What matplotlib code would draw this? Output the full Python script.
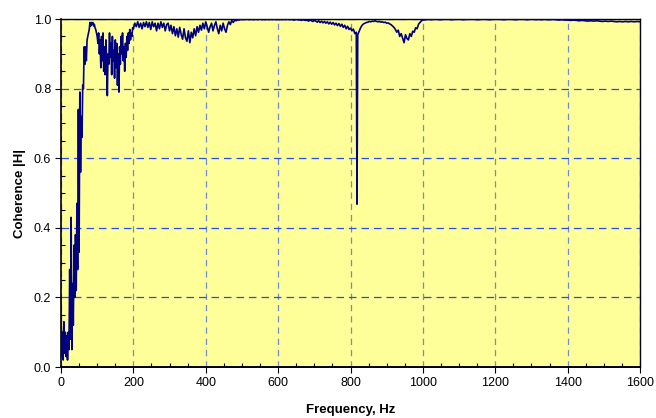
import matplotlib
matplotlib.use("Agg")
import matplotlib.pyplot as plt
import numpy as np
from matplotlib.ticker import MultipleLocator, FormatStrFormatter

plt.rcParams["font.family"] = ["Liberation Sans", "DejaVu Sans"]

# coherence read off the picture, in four stretches sampled at their own spacing
# 0-198 Hz, every 2 Hz (the noisy rise)
f_low = np.arange(0, 200, 2)
coh_low = [
    0.19, 0.03, 0.10, 0.02, 0.13, 0.04, 0.10, 0.03, 0.09, 0.02,
    0.10, 0.05, 0.28, 0.08, 0.43, 0.05, 0.24, 0.12, 0.35, 0.20,
    0.38, 0.22, 0.47, 0.28, 0.74, 0.33, 0.79, 0.56, 0.72, 0.66,
    0.81, 0.80, 0.92, 0.87, 0.92, 0.88, 0.94, 0.95, 0.96, 0.97,
    0.99, 0.98, 0.99, 0.985, 0.99, 0.98, 0.985, 0.975, 0.97, 0.96,
    0.95, 0.93, 0.96, 0.90, 0.94, 0.86, 0.95, 0.88, 0.96, 0.85,
    0.92, 0.84, 0.94, 0.88, 0.78, 0.90, 0.87, 0.96, 0.89, 0.93,
    0.84, 0.95, 0.88, 0.91, 0.83, 0.94, 0.86, 0.93, 0.81, 0.90,
    0.79, 0.92, 0.87, 0.95, 0.90, 0.96, 0.88, 0.92, 0.85, 0.93,
    0.89, 0.95, 0.91, 0.96, 0.93, 0.97, 0.94, 0.96, 0.95, 0.975,
]
# 200-596 Hz, every 4 Hz
f_mid = np.arange(200, 600, 4)
coh_mid = [
    0.972, 0.988, 0.978, 0.992, 0.976, 0.988, 0.972, 0.990, 0.978, 0.992,
    0.976, 0.990, 0.970, 0.992, 0.978, 0.988, 0.966, 0.988, 0.972, 0.992,
    0.976, 0.988, 0.966, 0.984, 0.988, 0.966, 0.982, 0.958, 0.978, 0.952,
    0.972, 0.948, 0.976, 0.956, 0.942, 0.972, 0.946, 0.936, 0.966, 0.932,
    0.962, 0.946, 0.972, 0.952, 0.978, 0.962, 0.982, 0.968, 0.988, 0.972,
    0.992, 0.978, 0.962, 0.978, 0.988, 0.966, 0.982, 0.992, 0.972, 0.958,
    0.982, 0.966, 0.988, 0.972, 0.962, 0.982, 0.992, 0.984, 0.996, 0.990,
    0.997, 0.995, 0.998, 0.997, 0.999, 0.998, 0.999, 0.998, 0.999, 0.999,
    0.998, 0.999, 0.999, 0.998, 0.999, 0.999, 0.998, 0.999, 0.999, 0.998,
    0.999, 0.998, 0.999, 0.999, 0.998, 0.999, 0.998, 0.999, 0.999, 0.998,
]
# 600-996 Hz, every 4 Hz (the dip near 810 Hz and the one near 950 Hz)
f_hi = np.arange(600, 1000, 4)
coh_hi = [
    0.999, 0.998, 0.999, 0.998, 0.999, 0.998, 0.999, 0.999, 0.998, 0.999,
    0.998, 0.997, 0.998, 0.999, 0.997, 0.998, 0.996, 0.998, 0.997, 0.996,
    0.997, 0.994, 0.997, 0.995, 0.993, 0.996, 0.994, 0.991, 0.995, 0.990,
    0.994, 0.989, 0.993, 0.988, 0.992, 0.986, 0.991, 0.985, 0.990, 0.983,
    0.988, 0.981, 0.987, 0.979, 0.985, 0.976, 0.982, 0.972, 0.979, 0.970,
    0.974, 0.966, 0.971, 0.958, 0.962, 0.955, 0.965, 0.975, 0.982, 0.986,
    0.988, 0.990, 0.991, 0.993, 0.992, 0.994, 0.993, 0.995, 0.993, 0.992,
    0.993, 0.991, 0.992, 0.990, 0.991, 0.988, 0.989, 0.986, 0.984, 0.980,
    0.976, 0.970, 0.962, 0.968, 0.950, 0.958, 0.945, 0.932, 0.955, 0.944,
    0.940, 0.958, 0.950, 0.965, 0.962, 0.975, 0.972, 0.985, 0.990, 0.995,
]
# the single-bin drop at ~818 Hz
f_spike = [818]
coh_spike = [0.468]
# 1000-1600 Hz, every 8 Hz (flat top)
f_top = np.arange(1000, 1601, 8)
coh_top = [
    0.997, 0.998, 0.999, 0.998, 0.999, 0.999, 0.998, 0.999, 0.999, 0.999,
    0.998, 0.999, 0.999, 0.999, 0.998, 0.999, 0.999, 0.999, 0.999, 0.998,
    0.999, 0.999, 0.999, 0.998, 0.999, 0.999, 0.999, 0.999, 0.998, 0.999,
    0.999, 0.999, 0.998, 0.999, 0.999, 0.999, 0.998, 0.999, 0.999, 0.998,
    0.999, 0.998, 0.999, 0.998, 0.998, 0.999, 0.998, 0.997, 0.998, 0.997,
    0.997, 0.996, 0.997, 0.996, 0.995, 0.996, 0.995, 0.994, 0.995, 0.994,
    0.995, 0.994, 0.993, 0.994, 0.993, 0.994, 0.993, 0.992, 0.993, 0.992,
    0.993, 0.992, 0.993, 0.992, 0.993, 0.992,
]

freq = np.concatenate([f_low, f_mid, f_hi, f_spike, f_top])
coh = np.concatenate([coh_low, coh_mid, coh_hi, coh_spike, coh_top])
order = np.argsort(freq, kind="stable")
freq, coh = freq[order], coh[order]

HGRID = "#2a4ee6"  # horizontal grid: bright blue
VGRID = "#6f8ccc"  # vertical grid: paler, greyer blue

fig = plt.figure(figsize=(6.56, 4.18), dpi=100)
ax = fig.add_axes([0.093, 0.122, 0.8826, 0.8325])
ax.set_facecolor("#ffff99")

ax.plot(freq, coh, color="#000080", lw=1.2, zorder=3)

ax.set_xlim(0, 1600)
ax.set_ylim(0, 1.0)
ax.xaxis.set_major_locator(MultipleLocator(200))
ax.xaxis.set_minor_locator(MultipleLocator(50))
ax.yaxis.set_major_locator(MultipleLocator(0.2))
ax.yaxis.set_minor_locator(MultipleLocator(0.05))
ax.yaxis.set_major_formatter(FormatStrFormatter("%.1f"))

ax.yaxis.grid(True, which="major", color=HGRID, lw=0.9, ls=(0, (6, 4)))
ax.xaxis.grid(True, which="major", color=VGRID, lw=0.9, ls=(0, (5, 4)))
ax.set_axisbelow(True)

ax.tick_params(which="major", direction="out", length=4, width=0.8, labelsize=9, pad=3)
ax.tick_params(which="minor", direction="in", length=3, width=0.8)
for s in ax.spines.values():
    s.set_color("black")
    s.set_linewidth(1.0)
ax.spines["left"].set_linewidth(1.2)
ax.spines["bottom"].set_linewidth(1.4)

ax.set_xlabel("Frequency, Hz", fontsize=9.5, fontweight="bold", labelpad=11)
ax.set_ylabel("Coherence |H|", fontsize=9.5, fontweight="bold", labelpad=6)

fig.savefig("out.png", dpi=100)
